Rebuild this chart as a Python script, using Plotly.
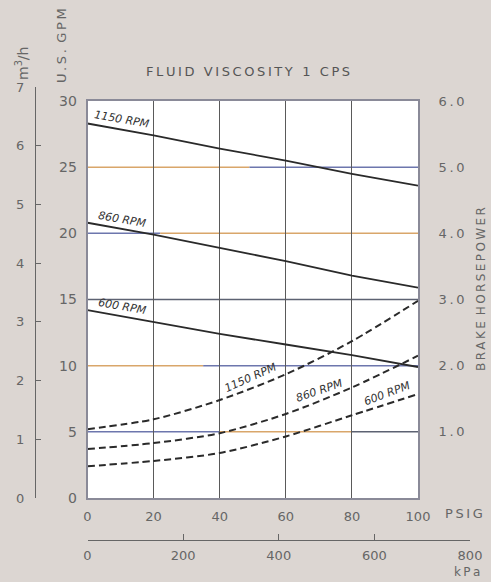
import numpy as np
import plotly.graph_objects as go

# Pump performance: capacity (U.S. GPM) and brake horsepower vs. discharge pressure
psig = [0, 20, 40, 60, 80, 100]
rpm_labels = ["1150 RPM", "860 RPM", "600 RPM"]
gpm_1150 = [28.3, 27.4, 26.4, 25.5, 24.5, 23.6]
gpm_860 = [20.8, 19.9, 18.9, 17.9, 16.8, 15.9]
gpm_600 = [14.2, 13.3, 12.4, 11.6, 10.8, 9.9]
bhp_1150 = [1.04, 1.19, 1.48, 1.87, 2.37, 2.98]
bhp_860 = [0.74, 0.83, 0.98, 1.27, 1.67, 2.15]
bhp_600 = [0.48, 0.56, 0.68, 0.93, 1.25, 1.57]

gpm_ticks = [0, 5, 10, 15, 20, 25, 30]
hp_ticks = [1, 2, 3, 4, 5, 6]
m3h_ticks = [0, 1, 2, 3, 4, 5, 6, 7]
kpa_ticks = [0, 200, 400, 600, 800]

W, H = 491, 582
BG = "#dcd6d2"
INK = "#2a2a2a"
TXT = "#666666"
FONT = "DejaVu Sans"
ORANGE = "#d9a66a"
BLUE = "#6d76ad"
SLATE = "#5d6272"
CLEAR = "rgba(0,0,0,0)"


def px_x(p):
    return p / W


def px_y(p):
    return 1 - p / H


def spaced(s, sep="\u2009"):
    return sep.join(s)


fig = go.Figure()

# capacity curves (solid)
for name, vals in zip(rpm_labels, [gpm_1150, gpm_860, gpm_600]):
    fig.add_trace(go.Scatter(x=psig, y=vals, mode="lines", name=name,
                             line=dict(color=INK, width=1.8),
                             xaxis="x", yaxis="y", hoverinfo="skip"))

# brake horsepower curves (dashed)
for name, vals in zip(rpm_labels, [bhp_1150, bhp_860, bhp_600]):
    fig.add_trace(go.Scatter(x=psig, y=vals, mode="lines", name=name,
                             line=dict(color=INK, width=2, dash="7px,4px",
                                       shape="spline", smoothing=0.8),
                             xaxis="x", yaxis="y2", hoverinfo="skip"))

# carrier for the metric scales (m3/h and kPa)
fig.add_trace(go.Scatter(x=[0], y=[0], mode="markers", marker=dict(opacity=0),
                         xaxis="x2", yaxis="y3", hoverinfo="skip", showlegend=False))

shapes = [dict(type="rect", xref="x domain", yref="y domain", x0=0, x1=1, y0=0, y1=1,
               fillcolor="white", line=dict(width=0), layer="below")]

# horizontal rules, two-colour print
rule_runs = {
    25: [(0, 49, ORANGE), (49, 100, BLUE)],
    20: [(0, 22, BLUE), (22, 100, ORANGE)],
    15: [(0, 100, SLATE)],
    10: [(0, 35, ORANGE), (35, 100, BLUE)],
    5: [(0, 40, BLUE), (40, 80, ORANGE), (80, 100, SLATE)],
}
for level, runs in rule_runs.items():
    for a, b, c in runs:
        shapes.append(dict(type="line", xref="x", yref="y", x0=a, x1=b, y0=level, y1=level,
                           line=dict(color=c, width=1.5), layer="below"))

ann = []
# curve labels
for vals, lab in zip([gpm_1150, gpm_860, gpm_600], rpm_labels):
    xv = 10.5
    ann.append(dict(x=xv, y=float(np.interp(xv, psig, vals)), xref="x", yref="y",
                    text=lab, showarrow=False, textangle=10, yshift=10,
                    font=dict(family=FONT, size=11, color="#333", style="italic")))
for vals, lab, xv, ang in zip([bhp_1150, bhp_860, bhp_600], rpm_labels,
                              [49.5, 70.3, 90.8], [-24, -19, -21]):
    ann.append(dict(x=xv, y=float(np.interp(xv, psig, vals)), xref="x", yref="y2",
                    text=lab, showarrow=False, textangle=ang, yshift=10,
                    font=dict(family=FONT, size=11, color="#333", style="italic")))


def label(px, py, text, size=13, angle=0, color=TXT):
    return dict(x=px_x(px), y=px_y(py), xref="paper", yref="paper", showarrow=False,
                xanchor="center", yanchor="middle", textangle=angle, text=text,
                font=dict(family=FONT, size=size, color=color))


# titles
ann += [
    label(248, 71, spaced("FLUID VISCOSITY 1 CPS"), color="#555"),
    label(62, 46, spaced("U.S.") + "\u2002" + spaced("GPM"), angle=-90),
    label(22, 64, "m<sup>3</sup>/h", size=14, angle=-90),
    label(481, 289, spaced("BRAKE") + "\u2002" + spaced("HORSEPOWER"), size=12, angle=-90),
    label(464, 513, spaced("PSIG")),
    label(467, 572, spaced("kPa"), size=12),
]

tickfont = dict(family=FONT, size=13, color=TXT)
x_dom = [px_x(87.5), px_x(418)]
y_dom = [px_y(498), px_y(101)]

fig.update_layout(
    width=W, height=H,
    margin=dict(l=0, r=0, t=0, b=0, autoexpand=False),
    paper_bgcolor=BG, plot_bgcolor=CLEAR,
    showlegend=False,
    shapes=shapes, annotations=ann,
    xaxis=dict(domain=x_dom, range=[0, 100], tickvals=psig,
               ticks="outside", ticklen=6, tickcolor=CLEAR,
               showgrid=True, gridcolor="#5a5a5a", gridwidth=1, zeroline=False,
               showline=True, mirror=True, linecolor="#8a8a98", linewidth=1.5,
               tickfont=tickfont, anchor="y", automargin=False),
    yaxis=dict(domain=y_dom, range=[0, 30], tickvals=gpm_ticks,
               ticks="outside", ticklen=6, tickcolor=CLEAR,
               showgrid=False, zeroline=False,
               showline=True, mirror=True, linecolor="#8a8a98", linewidth=1.5,
               tickfont=dict(family=FONT, size=14, color=TXT), anchor="x", automargin=False),
    yaxis2=dict(overlaying="y", side="right", range=[0, 6], tickvals=hp_ticks,
                ticktext=[f"{v}\u2009.\u20090" for v in hp_ticks],
                ticks="outside", ticklen=17, tickcolor=CLEAR,
                showgrid=False, zeroline=False, showline=False,
                tickfont=tickfont, anchor="x", automargin=False),
    xaxis2=dict(domain=[px_x(87.5), px_x(470)], range=[0, 800], tickvals=kpa_ticks,
                anchor="free", position=px_y(540), ticks="inside", ticklen=6,
                tickcolor="#666", showline=True, linecolor="#666", linewidth=1,
                showgrid=False, zeroline=False, ticklabelstandoff=3,
                tickfont=tickfont, automargin=False),
    yaxis3=dict(domain=[px_y(498), px_y(87)], range=[0, 7], tickvals=m3h_ticks,
                anchor="free", position=px_x(35), side="left",
                ticks="inside", ticklen=5, tickcolor="#666",
                showline=True, linecolor="#666", linewidth=1,
                showgrid=False, zeroline=False, ticklabelstandoff=8,
                tickfont=tickfont, automargin=False),
)

fig.write_html("out.html")
